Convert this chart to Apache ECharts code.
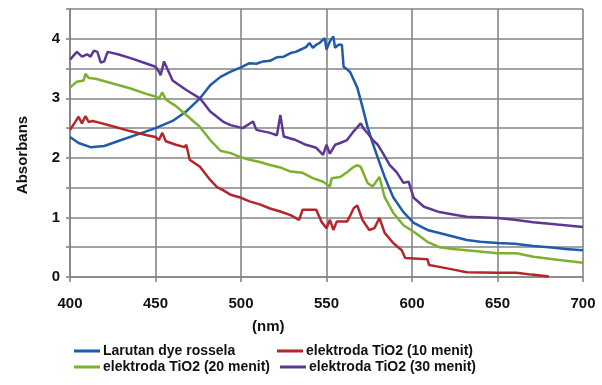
<!DOCTYPE html>
<html>
<head>
<meta charset="utf-8">
<script src="https://cdn.jsdelivr.net/npm/echarts@6/dist/echarts.min.js"></script>
<style>
html,body{margin:0;padding:0;background:#fff;}
#chart{width:602px;height:385px;}
</style>
</head>
<body>
<div id="chart"></div>
<script>
const seriesNames = ['Larutan dye rossela', 'elektroda TiO2 (10 menit)', 'elektroda TiO2 (20 menit)', 'elektroda TiO2 (30 menit)'];
const xTicks = [400, 450, 500, 550, 600, 650, 700];
const yTicks = [0, 1, 2, 3, 4];

const blueNm = [400,405,412,420,430,440,450,460,468,476,482,488,494,500,505,509,513,517,521,525,529,532,535,538,540,542,544,546,549,550,552,554,555,557,559,560,562,564,568,571,574,577,580,584,589,595,601,609,616,624,632,640,650,660,671,680,690,700];
const blueAbs = [2.35,2.25,2.18,2.2,2.3,2.4,2.5,2.62,2.78,3.0,3.22,3.36,3.45,3.52,3.59,3.58,3.62,3.63,3.69,3.7,3.76,3.78,3.82,3.86,3.93,3.85,3.9,3.93,4.01,3.82,3.96,4.04,3.85,3.9,3.9,3.53,3.49,3.43,3.18,2.86,2.52,2.25,2.0,1.68,1.34,1.09,0.91,0.79,0.74,0.68,0.62,0.59,0.57,0.56,0.52,0.5,0.47,0.45];

const redNm = [400,403,405,407,409,411,413,416,425,435,445,450,452,454,456,462,467,468,470,476,482,486,490,494,500,505,511,517,523,529,534,536,544,547,550,552,554,556,562,564,566,568,571,575,578,581,584,589,594,596,609,610,616,625,632,650,661,670,680];
const redAbs = [2.47,2.6,2.69,2.58,2.7,2.6,2.62,2.6,2.53,2.45,2.38,2.35,2.3,2.42,2.28,2.22,2.18,2.22,1.97,1.85,1.63,1.51,1.45,1.38,1.33,1.27,1.22,1.15,1.1,1.04,0.96,1.13,1.13,0.93,0.82,0.96,0.79,0.93,0.93,1.04,1.16,1.2,0.96,0.79,0.82,0.99,0.74,0.57,0.45,0.32,0.3,0.2,0.17,0.12,0.08,0.07,0.07,0.04,0.01];

const greenNm = [400,404,408,409,411,415,425,435,445,450,452,454,456,462,468,472,476,482,488,494,500,505,511,517,523,529,536,542,548,552,553,558,562,566,568,570,574,577,581,584,589,595,601,609,616,624,632,650,661,671,685,700];
const greenAbs = [3.18,3.28,3.3,3.41,3.34,3.33,3.25,3.17,3.07,3.03,3.0,3.1,2.98,2.87,2.72,2.62,2.52,2.3,2.12,2.08,2.01,1.97,1.93,1.88,1.84,1.77,1.75,1.66,1.6,1.52,1.66,1.68,1.76,1.85,1.88,1.85,1.58,1.52,1.68,1.34,1.08,0.87,0.76,0.59,0.5,0.47,0.45,0.4,0.4,0.34,0.29,0.24];

const purpleNm = [400,404,407,410,412,414,416,418,420,422,428,435,445,450,452,453,455,460,468,476,482,490,494,501,507,509,517,521,523,525,532,538,544,548,550,552,555,558,562,566,570,572,575,577,580,583,587,591,595,598,601,607,616,624,632,650,660,671,685,700];
const purpleAbs = [3.65,3.78,3.7,3.74,3.7,3.8,3.78,3.6,3.62,3.78,3.74,3.68,3.58,3.53,3.45,3.39,3.62,3.3,3.14,3.0,2.78,2.6,2.55,2.5,2.61,2.47,2.42,2.38,2.72,2.36,2.3,2.22,2.17,2.05,2.22,2.07,2.22,2.25,2.3,2.45,2.58,2.48,2.38,2.3,2.22,2.08,1.88,1.76,1.58,1.6,1.33,1.18,1.09,1.05,1.01,0.99,0.96,0.92,0.88,0.84];

const colors = ['#1F5BA8', '#B3262A', '#7DB02E', '#5C3893'];
const pairs = (xs, ys) => xs.map((x, i) => [x, ys[i]]);
const allData = [pairs(blueNm, blueAbs), pairs(redNm, redAbs), pairs(greenNm, greenAbs), pairs(purpleNm, purpleAbs)];

const chart = echarts.init(document.getElementById('chart'), null, {renderer: 'canvas'});
const gridColor = '#858585';
const labelFont = {fontFamily: 'Liberation Sans, Arial, sans-serif', fontWeight: 'bold', fontSize: 15, color: '#111'};
const legendPos = [[74, 344], [277, 344], [74, 360], [280, 360]];

chart.setOption({
  animation: false,
  backgroundColor: '#fff',
  grid: {left: 70, right: 19, top: 9, bottom: 108},
  xAxis: {
    type: 'value', min: 400, max: 700, interval: 50,
    axisLine: {show: true, lineStyle: {color: gridColor, width: 1.6}},
    axisTick: {show: true, length: 5, lineStyle: {color: gridColor, width: 1.6}},
    splitLine: {show: true, lineStyle: {color: gridColor, width: 1.6}},
    axisLabel: Object.assign({margin: 19, formatter: v => xTicks.includes(v) ? String(v) : ''}, labelFont)
  },
  yAxis: {
    type: 'value', min: 0, max: 4.5, interval: 0.5,
    axisLine: {show: true, lineStyle: {color: gridColor, width: 1.6}},
    axisTick: {show: true, length: 4, lineStyle: {color: gridColor, width: 1.6}},
    splitLine: {show: true, lineStyle: {color: gridColor, width: 1.6}},
    axisLabel: Object.assign({margin: 10, formatter: v => yTicks.includes(v) ? String(v) : ''}, labelFont)
  },
  legend: seriesNames.map((n, i) => ({
    data: [n], left: legendPos[i][0], top: legendPos[i][1], icon: 'rect',
    itemWidth: 26, itemHeight: 3, itemGap: 0, padding: 0,
    textStyle: {fontFamily: 'Liberation Sans, Arial, sans-serif', fontWeight: 'bold', fontSize: 14, color: '#111', padding: [0, 0, 0, -2]}
  })),
  graphic: [
    {type: 'text', left: 252, top: 319, style: {text: '(nm)', font: 'bold 15px "Liberation Sans", Arial, sans-serif', fill: '#111'}},
    {type: 'text', x: 23, y: 155, rotation: Math.PI / 2, style: {text: 'Absorbans', font: 'bold 15px "Liberation Sans", Arial, sans-serif', fill: '#111', align: 'center', verticalAlign: 'middle'}}
  ],
  series: seriesNames.map((n, i) => ({
    name: n, type: 'line', data: allData[i], showSymbol: false, symbol: 'none',
    lineStyle: {color: colors[i], width: 2.5}, itemStyle: {color: colors[i]}, z: 3
  }))
});
</script>
</body>
</html>
